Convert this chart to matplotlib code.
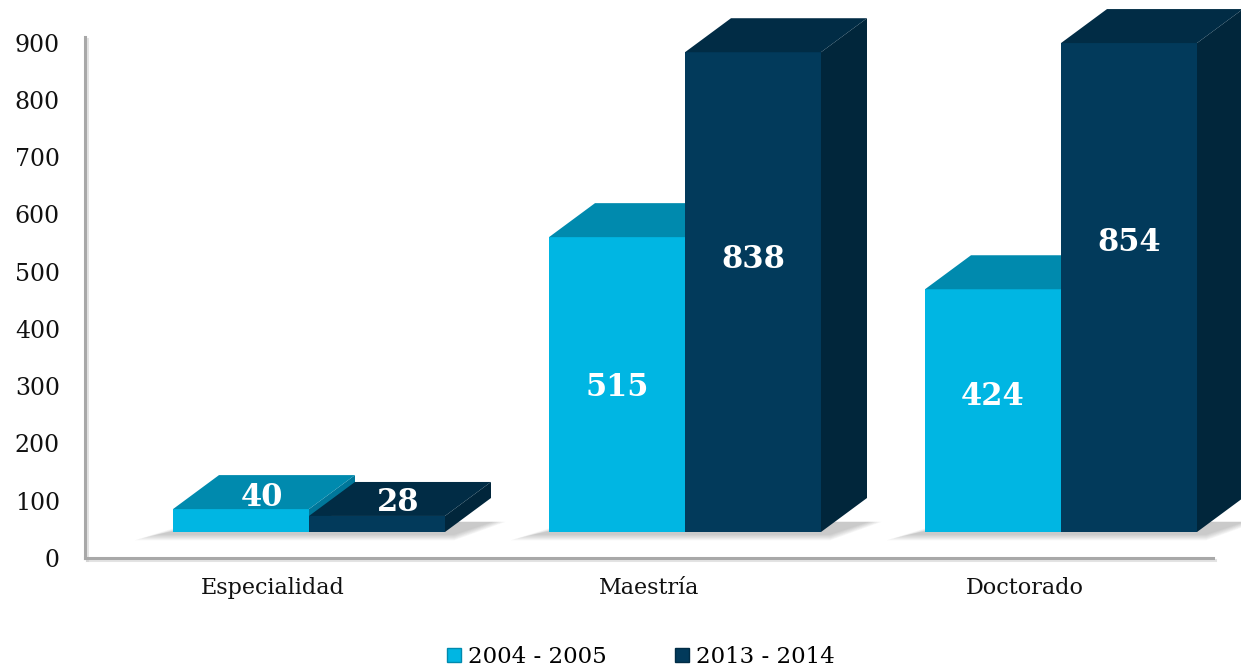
import matplotlib
matplotlib.use("Agg")
import matplotlib.pyplot as plt
import matplotlib.transforms as mtransforms
from matplotlib.patches import Polygon, Patch
import matplotlib.patheffects as pe
import numpy as np

# ---- data ----
categories = ["Especialidad", "Maestría", "Doctorado"]
series_names = ["2004 - 2005", "2013 - 2014"]
values_2004 = [40, 515, 424]
values_2013 = [28, 838, 854]
y_ticks = [0, 100, 200, 300, 400, 500, 600, 700, 800, 900]
# label anchor heights (value units, in bar space)
label_y_2004 = [61, 253, 236]
label_y_2013 = [51, 476, 505]

# ---- style ----
front_cols = ["#00B6E3", "#023A5B"]
top_cols = ["#008AAE", "#012C45"]
side_cols = ["#00779A", "#01263B"]
FONT = "DejaVu Serif"

W, H, DPI = 1241, 671, 100
fig = plt.figure(figsize=(W / DPI, H / DPI), dpi=DPI)
fig.patch.set_facecolor("white")

ax_l, ax_r, ax_b, ax_t = 85, 1213, 558, 37
ax = fig.add_axes([ax_l / W, (H - ax_b) / H, (ax_r - ax_l) / W, (ax_b - ax_t) / H])
ax.set_xlim(-0.5, 2.5)
ax.set_ylim(0, 910)
for s in ["top", "right"]:
    ax.spines[s].set_visible(False)
for s in ["left", "bottom"]:
    ax.spines[s].set_color("#A8A8A8")
    ax.spines[s].set_linewidth(2.2)
    ax.spines[s].set_path_effects([pe.SimpleLineShadow(offset=(1.2, -1.2), shadow_color="#C8C8C8", alpha=0.5), pe.Normal()])
ax.set_yticks(y_ticks)
ax.set_yticklabels([str(v) for v in y_ticks], fontsize=17, family=FONT, color="#111111")
ax.set_xticks(range(len(categories)))
ax.set_xticklabels(categories, fontsize=16, family=FONT, color="#111111")
ax.tick_params(axis="y", length=0, pad=18)
ax.tick_params(axis="x", length=0, pad=14)

# pixel scales
px_per_x = (ax_r - ax_l) / 3.0
px_per_y = (ax_b - ax_t) / 910.0
depth_dx = 46 / px_per_x
depth_dy = 34 / px_per_y
bar_w = 136 / px_per_x

# bars are drawn shifted (3D floor placement)
tr = mtransforms.offset_copy(ax.transData, fig=fig, x=36, y=26, units="dots")

def draw_shadow(x0, x1):
    # soft floor shadow
    n = 7
    for k in range(n):
        a = 0.045
        grow = (n - k) * 3.5 / px_per_x
        growy = (n - k) * 0.9 / px_per_y
        poly = Polygon([(x0 - 14 / px_per_x - grow, -2 / px_per_y - growy),
                        (x1 + depth_dx * 0.2, -2 / px_per_y - growy),
                        (x1 + depth_dx + grow * 0.6, depth_dy * 0.3),
                        (x0 + depth_dx - grow, depth_dy * 0.3)],
                       closed=True, facecolor="#444444", edgecolor="none", alpha=a,
                       transform=tr, clip_on=False, zorder=1)
        ax.add_patch(poly)

def draw_bar(x0, h, i):
    x1 = x0 + bar_w
    side = Polygon([(x1, 0), (x1 + depth_dx, depth_dy), (x1 + depth_dx, h + depth_dy), (x1, h)],
                   closed=True, facecolor=side_cols[i], edgecolor="none", transform=tr, clip_on=False, zorder=3)
    front = Polygon([(x0, 0), (x1, 0), (x1, h), (x0, h)],
                    closed=True, facecolor=front_cols[i], edgecolor="none", transform=tr, clip_on=False, zorder=3)
    top = Polygon([(x0, h), (x1, h), (x1 + depth_dx, h + depth_dy), (x0 + depth_dx, h + depth_dy)],
                  closed=True, facecolor=top_cols[i], edgecolor="none", transform=tr, clip_on=False, zorder=3)
    for p in (side, front, top):
        ax.add_patch(p)

for c in range(len(categories)):
    draw_shadow(c - bar_w, c + bar_w)

for c in range(len(categories)):
    draw_bar(c - bar_w, values_2004[c], 0)
    draw_bar(c, values_2013[c], 1)

# value labels
for c in range(len(categories)):
    for i, (vals, ly) in enumerate([(values_2004, label_y_2004), (values_2013, label_y_2013)]):
        x0 = c - bar_w + i * bar_w
        cx = x0 + bar_w / 2
        if vals[c] < 100:
            cx += depth_dx / 2 - 0.005
        ax.text(cx, ly[c], str(vals[c]), transform=tr, ha="center", va="center",
                fontsize=22, fontweight="bold", family=FONT, color="white", zorder=5)

# legend
handles = [Patch(facecolor=front_cols[i], edgecolor=top_cols[i], linewidth=1.0) for i in range(2)]
leg = fig.legend(handles, series_names, loc="center", bbox_to_anchor=(641 / W, 1 - 657 / H),
                 ncol=2, frameon=False, prop={"family": FONT, "size": 16.5},
                 handlelength=0.6, handleheight=0.6, handletextpad=0.3, columnspacing=3.0,
                 borderaxespad=0)

fig.savefig("out.png", dpi=DPI, facecolor="white")
